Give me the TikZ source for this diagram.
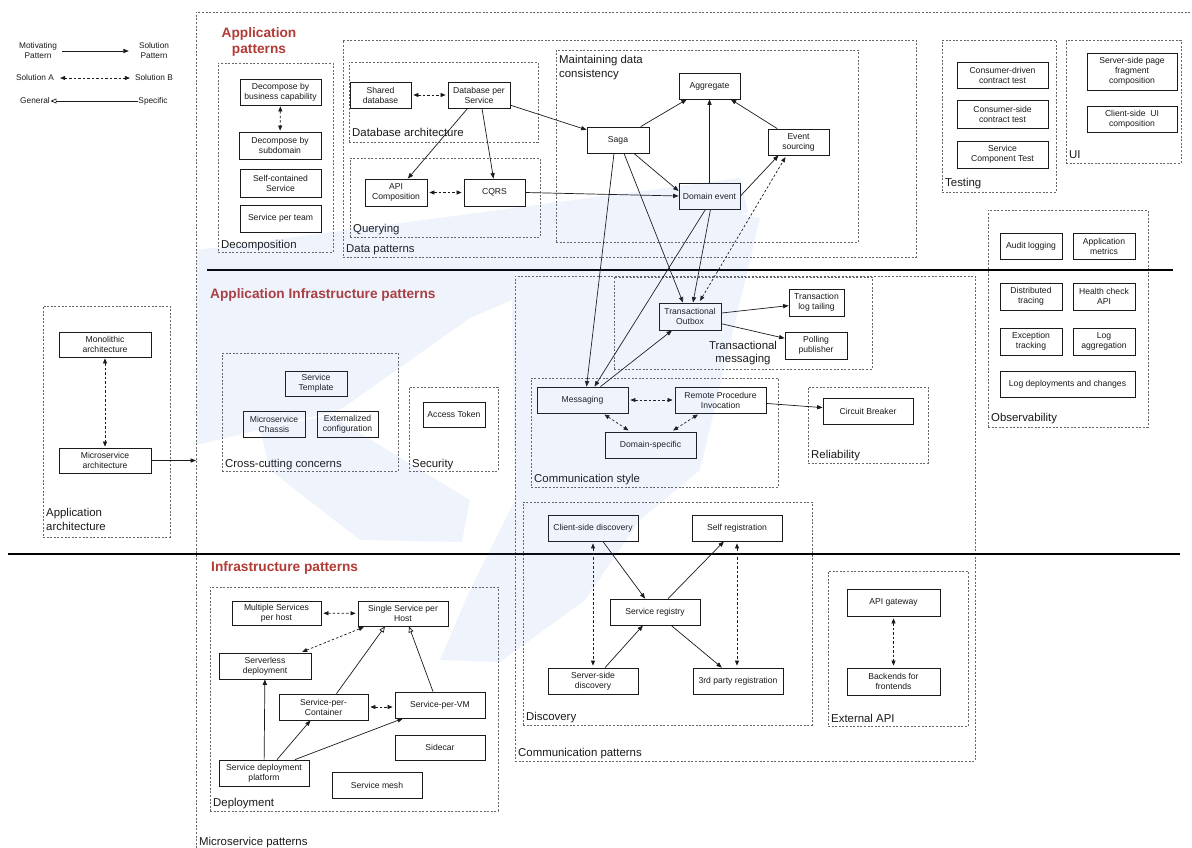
\documentclass[tikz,border=0pt]{standalone}
\usepackage{fontspec}
\setmainfont{Liberation Sans}
\usetikzlibrary{arrows.meta,shadows}
\definecolor{titlered}{HTML}{B23B36}
\definecolor{framegray}{HTML}{666666}
\definecolor{ink}{HTML}{1A1A1A}
\definecolor{wmblue}{HTML}{4B80E4}
\tikzset{
  box/.style={draw=ink, line width=0.8pt, fill=white, align=center, text=ink,
    font=\fontsize{8.6}{9.9}\selectfont, inner sep=1pt,
    drop shadow={shadow xshift=1.2pt, shadow yshift=-1.2pt, opacity=0.22}},
  frame/.style={draw=framegray, line width=0.7pt, dash pattern=on 2pt off 1.6pt, inner sep=0pt},
  flab/.style={font=\fontsize{11.4}{14}\selectfont, text=ink, inner sep=0pt, anchor=base west},
  flabml/.style={font=\fontsize{11.4}{14}\selectfont, text=ink, inner sep=0pt, anchor=north west, align=left},
  sectitle/.style={font=\bfseries\fontsize{13.7}{16}\selectfont, text=titlered, inner sep=0pt},
  leg/.style={font=\fontsize{8.3}{10}\selectfont, text=ink, align=center, inner sep=1pt},
  arr/.style={draw=ink, line width=0.7pt, -{Triangle[length=5.5pt,width=4.2pt]}},
  alt/.style={draw=ink, line width=0.7pt, dash pattern=on 2.5pt off 2pt,
    {Triangle[length=5pt,width=4pt]}-{Triangle[length=5pt,width=4pt]}, shorten <=2pt, shorten >=2pt},
  gen/.style={draw=ink, line width=0.7pt, -{Triangle[open,length=6pt,width=5pt]}},
  sepline/.style={draw=black, line width=1.1pt},
  watermark/.style={fill=wmblue, fill opacity=0.085, draw=none},
}
\newcommand{\patbox}[6]{%
  \pgfmathsetmacro\pbw{#4-#2}\pgfmathsetmacro\pbh{#5-#3}%
  \node[box, minimum width=\pbw pt, minimum height=\pbh pt] (#1) at ({(#2+#4)/2},{(#3+#5)/2}) {#6};}
\newcommand{\patframe}[5]{%
  \pgfmathsetmacro\pfw{#4-#2}\pgfmathsetmacro\pfh{#5-#3}%
  \node[frame, minimum width=\pfw pt, minimum height=\pfh pt] (#1) at ({(#2+#4)/2},{(#3+#5)/2}) {};}
\begin{document}
\begin{tikzpicture}[x=1pt,y=-1pt]
\useasboundingbox (0,0) rectangle (1192,847);
\fill[white] (0,0) rectangle (1192,847);

% ---------- frames ----------
\patframe{fouter}{196}{12}{1215}{880}
\patframe{fdecomp}{218}{63}{333}{252}
\patframe{fdata}{343}{40}{916}{257}
\patframe{fdbarch}{349}{62}{538}{142}
\patframe{fquery}{350}{158}{540}{237}
\patframe{fmaint}{556}{50}{858}{242}
\patframe{ftest}{942}{40}{1056}{192}
\patframe{fui}{1066}{40}{1181}{163}
\patframe{fobs}{988}{210}{1148}{427}
\patframe{fapparch}{43}{306}{170}{537}
\patframe{fcross}{222}{353}{398}{471}
\patframe{fsec}{409}{387}{498}{471}
\patframe{fcomm}{515}{276}{975}{761}
\patframe{ftm}{614}{277}{872}{369}
\patframe{fcs}{531}{378}{778}{487}
\patframe{frel}{808}{387}{928}{463}
\patframe{fdisc}{523}{502}{812}{725}
\patframe{fext}{828}{571}{968}{726}
\patframe{fdep}{210}{587}{498}{811}

% ---------- separator lines ----------
\coordinate (h1a) at (207,270); \coordinate (h1b) at (1173,270);
\coordinate (h2a) at (8,554);   \coordinate (h2b) at (1180,554);
\draw[sepline] (h1a) -- (h1b);
\draw[sepline] (h2a) -- (h2b);

% ---------- titles ----------
\node[sectitle, align=center] (t1) at (259,42) {Application\\patterns};
\node[sectitle, anchor=west] (t2) at (210,295) {Application Infrastructure patterns};
\node[sectitle, anchor=west] (t3) at (211,568) {Infrastructure patterns};

% ---------- frame labels ----------
\node[flab] (ldecomp) at (221,248) {Decomposition};
\node[flab] (ldata) at (346,252) {Data patterns};
\node[flab] (ldbarch) at (352,136) {Database architecture};
\node[flab] (lquery) at (353,232) {Querying};
\node[flabml] (lmaint) at (559,55) {Maintaining data\\consistency};
\node[flab] (ltest) at (945,186) {Testing};
\node[flab] (lui) at (1069,158) {UI};
\node[flab] (lobs) at (991,421) {Observability};
\node[flabml] (lapparch) at (46,508) {Application\\architecture};
\node[flab] (lcross) at (225,467) {Cross-cutting concerns};
\node[flab] (lsec) at (412,467) {Security};
\node[flab] (lcomm) at (518,756) {Communication patterns};
\node[font=\fontsize{11.4}{13.5}\selectfont, text=ink, inner sep=0pt, align=center, anchor=north] (ltm) at (743,341) {Transactional\\messaging};
\node[flab] (lcs) at (534,482) {Communication style};
\node[flab] (lrel) at (811,458) {Reliability};
\node[flab] (ldisc) at (526,720) {Discovery};
\node[flab] (lext) at (831,722) {External API};
\node[flab] (ldep) at (213,806) {Deployment};
\node[flab] (lms) at (199,845) {Microservice patterns};

% ---------- legend ----------
\node[leg] (lmot) at (38,51) {Motivating\\Pattern};
\node[leg] (lsol) at (154,51) {Solution\\Pattern};
\node[leg] (lsa) at (35,78) {Solution A};
\node[leg] (lsb) at (154,78) {Solution B};
\node[leg, inner sep=0.5pt] (lgen) at (35,101) {General};
\node[leg, inner sep=0.5pt] (lspec) at (153,101) {Specific};

% ---------- boxes ----------
% decomposition
\patbox{dbc}{240}{79}{321}{105}{Decompose by\\business capability}
\patbox{dsub}{239}{132}{321}{159}{Decompose by\\subdomain}
\patbox{scs}{240}{169}{321}{197}{Self-contained\\Service}
\patbox{spt}{240}{205}{321}{232}{Service per team}
% data
\patbox{shared}{350}{82}{411}{108}{Shared\\database}
\patbox{dbps}{448}{82}{510}{108}{Database per\\Service}
\patbox{apicomp}{365}{179}{427}{206}{API\\Composition}
\patbox{cqrs}{464}{179}{525}{206}{CQRS}
\patbox{agg}{679}{73}{740}{99}{Aggregate}
\patbox{saga}{587}{127}{649}{153}{Saga}
\patbox{evs}{768}{129}{829}{155}{Event\\sourcing}
\patbox{dev}{679}{183}{740}{209}{Domain event}
% testing & UI
\patbox{cdc}{957}{62}{1048}{88}{Consumer-driven\\contract test}
\patbox{csc}{957}{100}{1048}{128}{Consumer-side\\contract test}
\patbox{sct}{957}{141}{1048}{168}{Service\\Component Test}
\patbox{sspf}{1087}{53}{1177}{90}{Server-side page\\fragment\\composition}
\patbox{csui}{1087}{106}{1177}{132}{Client-side~ UI\\composition}
% observability
\patbox{audit}{1000}{233}{1062}{259}{Audit logging}
\patbox{appm}{1073}{233}{1135}{259}{Application\\metrics}
\patbox{dtrace}{1000}{283}{1062}{310}{Distributed\\tracing}
\patbox{health}{1073}{283}{1135}{310}{Health check\\API}
\patbox{exc}{1000}{328}{1062}{355}{Exception\\tracking}
\patbox{logagg}{1073}{328}{1135}{355}{Log\\aggregation}
\patbox{logdep}{1000}{371}{1135}{397}{Log deployments and changes}
% application architecture
\patbox{mono}{59}{332}{151}{357}{Monolithic\\architecture}
\patbox{micro}{59}{448}{151}{473}{Microservice\\architecture}
% cross-cutting & security
\patbox{stemp}{285}{371}{347}{396}{Service\\Template}
\patbox{chassis}{243}{411}{305}{437}{Microservice\\Chassis}
\patbox{extcfg}{317}{411}{378}{437}{Externalized\\configuration}
\patbox{token}{423}{402}{485}{427}{Access Token}
% communication
\patbox{outbox}{659}{303}{721}{330}{Transactional\\Outbox}
\patbox{logtail}{789}{289}{844}{316}{Transaction\\log tailing}
\patbox{polling}{785}{332}{847}{359}{Polling\\publisher}
\patbox{msg}{537}{387}{628}{413}{Messaging}
\patbox{rpi}{675}{387}{766}{413}{Remote Procedure\\Invocation}
\patbox{dsp}{605}{432}{696}{458}{Domain-specific}
\patbox{cb}{823}{398}{913}{424}{Circuit Breaker}
\patbox{client}{548}{515}{638}{541}{Client-side discovery}
\patbox{selfreg}{692}{515}{782}{541}{Self registration}
\patbox{sreg}{610}{599}{700}{625}{Service registry}
\patbox{server}{548}{668}{638}{694}{Server-side\\discovery}
\patbox{third}{693}{668}{783}{694}{3rd party registration}
\patbox{apigw}{847}{589}{940}{616}{API gateway}
\patbox{bff}{847}{668}{940}{695}{Backends for\\frontends}
% deployment
\patbox{msph}{232}{601}{321}{625}{Multiple Services\\per host}
\patbox{ssph}{358}{601}{448}{626}{Single Service per\\Host}
\patbox{serverless}{219}{653}{311}{679}{Serverless\\deployment}
\patbox{spc}{279}{694}{368}{720}{Service-per-\\Container}
\patbox{spvm}{395}{692}{485}{718}{Service-per-VM}
\patbox{sidecar}{395}{735}{485}{760}{Sidecar}
\patbox{sdp}{219}{760}{309}{786}{Service deployment\\platform}
\patbox{smesh}{332}{772}{422}{798}{Service mesh}

% ---------- connectors ----------
% legend
\draw[arr, shorten <=4pt, shorten >=9pt] (lmot) -- (lsol);
\draw[alt, shorten <=5pt, shorten >=4pt] (lsa) -- (lsb);
\draw[gen] (lspec) -- (lgen);
% decomposition
\draw[alt, shorten <=1pt, shorten >=1pt] (dbc) -- (dsub);
% data
\draw[alt] (shared) -- (dbps);
\draw[alt] (apicomp) -- (cqrs);
\draw[arr] (dbps) -- (apicomp);
\draw[arr] ([xshift=3pt]dbps.south) -- ([xshift=-1pt]cqrs.north);
\draw[arr] (dbps) -- (saga);
\draw[arr] (saga) -- (agg);
\draw[arr] (dev) -- (agg);
\draw[arr] (evs) -- (agg);
\draw[arr] (dev.east) -- ([xshift=-20pt]evs.south);
\draw[arr] (saga) -- ([yshift=5pt]dev.west);
\draw[arr] (cqrs.east) -- (dev.west);
\draw[alt] ([xshift=9pt]outbox.north) -- ([xshift=-12pt]evs.south);
\draw[arr] ([xshift=-4pt]saga.south) -- ([xshift=4pt]msg.north);
\draw[arr] ([xshift=6pt]saga.south) -- ([xshift=-7pt]outbox.north);
\draw[arr] ([xshift=-4pt]dev.south) -- ([xshift=12pt]msg.north);
\draw[arr] ([xshift=1pt]dev.south) -- ([xshift=3pt]outbox.north);
\draw[arr] ([xshift=18pt]msg.north) -- ([xshift=-18pt]outbox.south);
\draw[arr] (outbox) -- (logtail);
\draw[arr] (outbox) -- (polling);
% communication style
\draw[alt] (msg) -- (rpi);
\draw[alt] (msg) -- (dsp);
\draw[alt] (rpi) -- (dsp);
\draw[arr] (rpi) -- (cb);
% discovery
\draw[arr] (client) -- (sreg);
\draw[arr] (sreg) -- (selfreg);
\draw[arr] (server) -- (sreg);
\draw[arr] (sreg) -- (third);
\draw[alt] (client) -- (server);
\draw[alt] (selfreg.south) -- (selfreg.south |- third.north);
\draw[alt] (apigw) -- (bff);
% application architecture
\draw[alt, shorten <=1pt, shorten >=1pt] (mono) -- (micro);
\coordinate (msin) at (196,460.5);
\draw[arr] (micro.east) -- (msin);
% deployment
\draw[alt] (msph) -- (ssph);
\draw[alt] ([xshift=-11pt]serverless.north east) -- ([xshift=8pt]ssph.south west);
\draw[gen] ([xshift=13pt]spc.north) -- ([xshift=-18pt]ssph.south);
\draw[gen] ([xshift=-7pt]spvm.north) -- ([xshift=6pt]ssph.south);
\draw[arr] (sdp) -- (serverless);
\draw[arr] ([xshift=13pt]sdp.north) -- ([xshift=-13pt]spc.south);
\draw[arr] ([xshift=31pt]sdp.north) -- ([xshift=-37pt]spvm.south);
\draw[alt] (spc.east) -- (spc.east -| spvm.west);

% ---------- faint background watermark (overlay) ----------
\fill[watermark]
  (197,250) -- (740,178) -- (748,212) -- (600,262) -- (470,318) -- (340,410) -- (197,445) -- cycle
  (260,430) -- (330,415) -- (470,500) -- (462,542) -- (360,540) -- (270,470) -- cycle
  (600,262) -- (700,205) -- (760,218) -- (700,470) -- (640,520) -- (585,600) -- (500,662)
     -- (440,660) -- (470,590) -- (515,500) -- (512,300) -- cycle;
\end{tikzpicture}
\end{document}
